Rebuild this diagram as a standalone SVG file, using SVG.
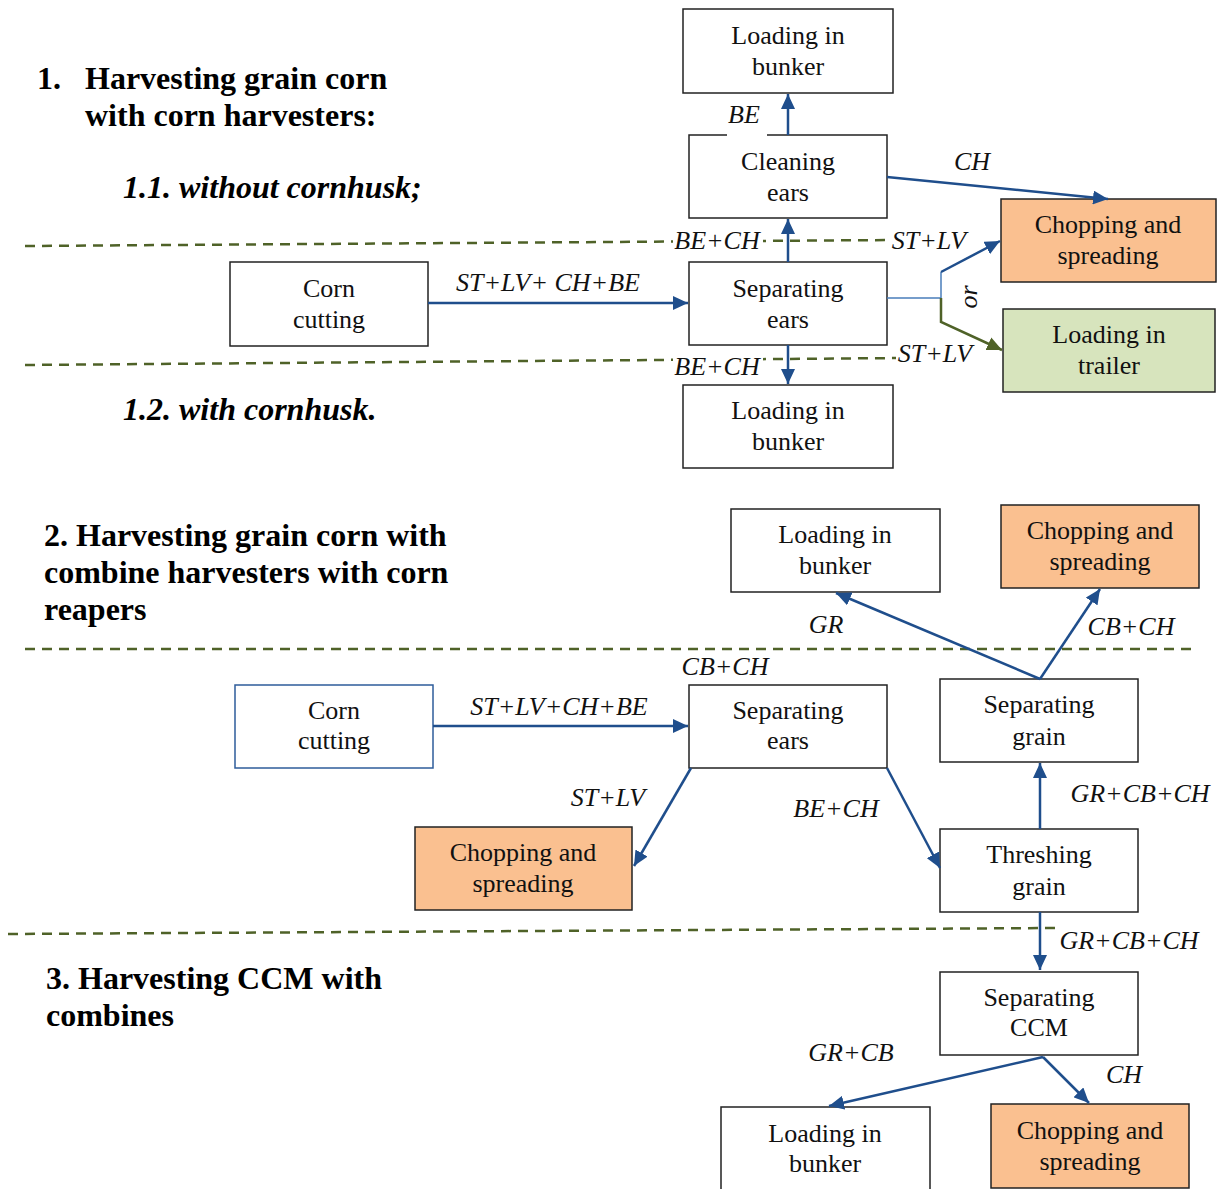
<svg xmlns="http://www.w3.org/2000/svg" width="1219" height="1189" viewBox="0 0 1219 1189">
<style>
.box{fill:#fff;stroke:#222;stroke-width:1.5}
.orange{fill:#FAC090;stroke:#222;stroke-width:1.5}
.green{fill:#D7E4BD;stroke:#222;stroke-width:1.5}
.bluebox{fill:#fff;stroke:#2E5C9A;stroke-width:1.5}
.t{font-family:"Liberation Serif","Times New Roman",serif;font-size:26px;fill:#111;text-anchor:middle}
.lab{font-family:"Liberation Serif","Times New Roman",serif;font-size:26px;font-style:italic;fill:#111;text-anchor:middle}
.title{font-family:"Liberation Serif","Times New Roman",serif;font-size:32px;font-weight:bold;fill:#000}
.sub{font-family:"Liberation Serif","Times New Roman",serif;font-size:32px;font-weight:bold;font-style:italic;fill:#000}
.dash{stroke:#4F6228;stroke-width:2.5;stroke-dasharray:10 7;fill:none}
.conn{stroke:#1F4E8C;stroke-width:2.5;fill:none}
.thin{stroke:#4A7EBB;stroke-width:1.5;fill:none}
.olive{stroke:#4F6228;stroke-width:2.5;fill:none}
</style>
<defs>
<marker id="ah" markerUnits="userSpaceOnUse" markerWidth="16" markerHeight="14" refX="15" refY="7" orient="auto">
<path d="M0,0 L15,7 L0,14 z" fill="#1F4E8C"/>
</marker>
<marker id="ahg" markerUnits="userSpaceOnUse" markerWidth="16" markerHeight="14" refX="15" refY="7" orient="auto">
<path d="M0,0 L15,7 L0,14 z" fill="#4F6228"/>
</marker>
</defs>
<rect width="1219" height="1189" fill="#fff"/>

<g id="titles">
<text class="title" x="37" y="89">1.</text>
<text class="title" x="85" y="89">Harvesting grain corn</text>
<text class="title" x="85" y="126">with corn harvesters:</text>
<text class="sub" x="123" y="198">1.1. without cornhusk;</text>
<text class="sub" x="123" y="420">1.2. with cornhusk.</text>
<text class="title" x="44" y="546">2. Harvesting grain corn with</text>
<text class="title" x="44" y="583">combine harvesters with corn</text>
<text class="title" x="44" y="620">reapers</text>
<text class="title" x="46" y="989">3. Harvesting CCM with</text>
<text class="title" x="46" y="1026">combines</text>
</g>

<g id="dividers">
<line class="dash" x1="25" y1="246" x2="895" y2="240"/>
<line class="dash" x1="25" y1="365" x2="905" y2="358"/>
<line class="dash" x1="25" y1="649" x2="1195" y2="649"/>
<line class="dash" x1="8" y1="934" x2="1055" y2="928"/>
</g>

<g id="n1-bunker-top"><rect class="box" x="683" y="9" width="210" height="84"/><text class="t" x="788" y="44">Loading in</text><text class="t" x="788" y="75">bunker</text></g>
<g id="n1-cleaning"><rect class="box" x="689" y="135" width="198" height="83"/><text class="t" x="788" y="170">Cleaning</text><text class="t" x="788" y="201">ears</text></g>
<g id="n1-chop"><rect class="orange" x="1001" y="199" width="215" height="83"/><text class="t" x="1108" y="233">Chopping and</text><text class="t" x="1108" y="264">spreading</text></g>
<g id="n1-separating"><rect class="box" x="689" y="262" width="198" height="83"/><text class="t" x="788" y="297">Separating</text><text class="t" x="788" y="328">ears</text></g>
<g id="n1-corncut"><rect class="box" x="230" y="262" width="198" height="84"/><text class="t" x="329" y="297">Corn</text><text class="t" x="329" y="328">cutting</text></g>
<g id="n1-trailer"><rect class="green" x="1003" y="309" width="212" height="83"/><text class="t" x="1109" y="343">Loading in</text><text class="t" x="1109" y="374">trailer</text></g>
<g id="n1-bunker-bottom"><rect class="box" x="683" y="385" width="210" height="83"/><text class="t" x="788" y="419">Loading in</text><text class="t" x="788" y="450">bunker</text></g>

<g id="n2-bunker"><rect class="box" x="731" y="509" width="209" height="83"/><text class="t" x="835" y="543">Loading in</text><text class="t" x="835" y="574">bunker</text></g>
<g id="n2-chop-top"><rect class="orange" x="1001" y="505" width="198" height="83"/><text class="t" x="1100" y="539">Chopping and</text><text class="t" x="1100" y="570">spreading</text></g>
<g id="n2-sepgrain"><rect class="box" x="940" y="679" width="198" height="83"/><text class="t" x="1039" y="713">Separating</text><text class="t" x="1039" y="745">grain</text></g>
<g id="n2-corncut"><rect class="bluebox" x="235" y="685" width="198" height="83"/><text class="t" x="334" y="719">Corn</text><text class="t" x="334" y="749">cutting</text></g>
<g id="n2-sepears"><rect class="box" x="689" y="685" width="198" height="83"/><text class="t" x="788" y="719">Separating</text><text class="t" x="788" y="749">ears</text></g>
<g id="n2-chop-left"><rect class="orange" x="415" y="827" width="217" height="83"/><text class="t" x="523" y="861">Chopping and</text><text class="t" x="523" y="892">spreading</text></g>
<g id="n2-threshing"><rect class="box" x="940" y="829" width="198" height="83"/><text class="t" x="1039" y="863">Threshing</text><text class="t" x="1039" y="895">grain</text></g>

<g id="n3-sepccm"><rect class="box" x="940" y="972" width="198" height="83"/><text class="t" x="1039" y="1006">Separating</text><text class="t" x="1039" y="1036">CCM</text></g>
<g id="n3-bunker"><rect class="box" x="721" y="1107" width="209" height="95"/><text class="t" x="825" y="1142">Loading in</text><text class="t" x="825" y="1172">bunker</text></g>
<g id="n3-chop"><rect class="orange" x="991" y="1104" width="198" height="84"/><text class="t" x="1090" y="1139">Chopping and</text><text class="t" x="1090" y="1170">spreading</text></g>

<g id="connectors">
<line class="conn" x1="788" y1="135" x2="788" y2="94" marker-end="url(#ah)"/>
<line class="conn" x1="887" y1="177" x2="1108" y2="199" marker-end="url(#ah)"/>
<line class="conn" x1="788" y1="262" x2="788" y2="219" marker-end="url(#ah)"/>
<line class="conn" x1="788" y1="345" x2="788" y2="384" marker-end="url(#ah)"/>
<line class="conn" x1="428" y1="303" x2="688" y2="303" marker-end="url(#ah)"/>
<polyline class="thin" points="887,298 941,298 941,272"/>
<line class="conn" x1="941" y1="272" x2="1000" y2="241" marker-end="url(#ah)"/>
<polyline class="olive" points="941,298 941,322 1002,350" marker-end="url(#ahg)"/>

<line class="conn" x1="433" y1="726" x2="688" y2="726" marker-end="url(#ah)"/>
<line class="conn" x1="691" y1="768" x2="634" y2="866" marker-end="url(#ah)"/>
<line class="conn" x1="887" y1="768" x2="940" y2="868" marker-end="url(#ah)"/>
<line class="conn" x1="1040" y1="829" x2="1040" y2="763" marker-end="url(#ah)"/>
<line class="conn" x1="1040" y1="679" x2="836" y2="593" marker-end="url(#ah)"/>
<line class="conn" x1="1040" y1="679" x2="1100" y2="589" marker-end="url(#ah)"/>
<line class="conn" x1="1040" y1="912" x2="1040" y2="970" marker-end="url(#ah)"/>
<line class="conn" x1="1043" y1="1057" x2="829" y2="1106" marker-end="url(#ah)"/>
<line class="conn" x1="1043" y1="1057" x2="1089" y2="1103" marker-end="url(#ah)"/>
</g>

<g id="labels">
<rect x="727" y="100" width="40" height="36" fill="#fff"/>
<text class="lab" x="744" y="123">BE</text>
<text class="lab" x="972" y="170">CH</text>
<rect x="673" y="228" width="90" height="26" fill="#fff"/>
<text class="lab" x="717" y="249">BE+CH</text>
<rect x="890" y="228" width="78" height="26" fill="#fff"/>
<text class="lab" x="929" y="249">ST+LV</text>
<text class="lab" x="548" y="291">ST+LV+ CH+BE</text>
<text class="lab" transform="translate(977,297) rotate(-90)" x="0" y="0">or</text>
<rect x="673" y="354" width="90" height="26" fill="#fff"/>
<text class="lab" x="717" y="375">BE+CH</text>
<rect x="896" y="341" width="78" height="26" fill="#fff"/>
<text class="lab" x="935" y="362">ST+LV</text>

<text class="lab" x="826" y="633">GR</text>
<text class="lab" x="1131" y="635">CB+CH</text>
<text class="lab" x="725" y="675">CB+CH</text>
<text class="lab" x="559" y="715">ST+LV+CH+BE</text>
<text class="lab" x="608" y="806">ST+LV</text>
<text class="lab" x="836" y="817">BE+CH</text>
<text class="lab" x="1140" y="802">GR+CB+CH</text>
<text class="lab" x="1129" y="949">GR+CB+CH</text>
<text class="lab" x="851" y="1061">GR+CB</text>
<text class="lab" x="1124" y="1083">CH</text>
</g>
</svg>
